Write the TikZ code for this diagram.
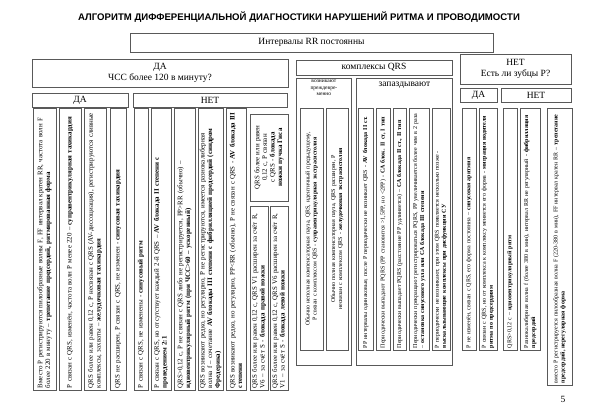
\documentclass[tikz,border=0pt]{standalone}
\usepackage{fontspec}
\setmainfont{Liberation Serif}
\newfontfamily\headfont{Liberation Sans}
\usetikzlibrary{positioning}

\begin{document}
\begin{tikzpicture}[x=1pt, y=-1pt, every node/.style={font=\fontsize{9.5}{11}\selectfont}]
\tikzstyle{headbox} = [rectangle, draw=black!65, line width=0.8pt, align=center, inner sep=1pt]
\tikzstyle{frame} = [rectangle, draw=black!65, line width=0.8pt, anchor=north west, inner sep=0pt]
\tikzstyle{column} = [rectangle, draw=black!65, line width=0.7pt, rotate=90, align=left, inner sep=1.5pt, font=\fontsize{6.9}{7.6}\selectfont]
\tikzstyle{smallcol} = [column, font=\fontsize{6}{7}\selectfont]

\useasboundingbox (0,0) rectangle (604,409);

% Title
\node (title) at (299,17) {\headfont\bfseries\fontsize{9.6}{12}\selectfont АЛГОРИТМ ДИФФЕРЕНЦИАЛЬНОЙ ДИАГНОСТИКИ НАРУШЕНИЙ РИТМА И ПРОВОДИМОСТИ};

% Header boxes
\node (rr) [headbox, minimum width=363, minimum height=19] at (311.5,42.5) {Интервалы RR постоянны};
\node (hr) [headbox, minimum width=256, minimum height=28] at (160,73) {ДА\\ЧСС более 120 в минуту?};
\node (hryes) [headbox, minimum width=96, minimum height=14] at (80,100) {ДА};
\node (hrno) [headbox, minimum width=154, minimum height=14] at (210,100) {НЕТ};
\node (qrs) [headbox, minimum width=156, minimum height=15] at (374,67.5) {комплексы QRS};
\node (early) [frame, minimum width=55, minimum height=287,
  label={[anchor=north, align=center, inner sep=2pt, font=\fontsize{5.5}{6.3}\selectfont]north:возникают\\преждевре-\\менно}] at (296,78) {};
\node (late) [frame, minimum width=96, minimum height=287,
  label={[anchor=north, inner sep=4pt]north:запаздывают}] at (356,78) {};
\node (pwave) [headbox, minimum width=111, minimum height=30] at (515.5,69) {НЕТ\\Есть ли зубцы P?};
\node (pyes) [headbox, minimum width=37, minimum height=14] at (478.5,95) {ДА};
\node (pno) [headbox, minimum width=70, minimum height=14] at (536,95) {НЕТ};

% Columns under "ДА" (ЧСС более 120)
\node (c1) [column, minimum width=282, minimum height=23, text width=278] at (44.5,249) {Вместо P регистрируются пилообразные волны F, FF интервал кратен RR, частота волн F более 220 в минуту – \textbf{трепетание предсердий, ритмированная форма}};
\node (c2) [column, minimum width=282, minimum height=22, text width=278] at (70,249) {P связан с QRS, изменён, частота волн P менее 220 – \textbf{суправентрикулярная тахикардия}};
\node (c3) [column, minimum width=282, minimum height=22, text width=278] at (95,249) {QRS более или равен 0,12 с, P несвязан с QRS (AV-диссоциация), регистрируются сливные комплексы, захваты – \textbf{желудочковая тахикардия}};
\node (c4) [column, minimum width=282, minimum height=16, text width=278] at (118,249) {QRS не расширен, P связан с QRS, не изменен - \textbf{синусовая тахикардия}};

% Columns under "НЕТ" (ЧСС более 120)
\node (c5) [column, minimum width=282, minimum height=14, text width=278] at (141,249) {P связан с QRS, не изменены - \textbf{синусовый ритм}};
\node (c6) [column, minimum width=282, minimum height=20, text width=278] at (161,249) {P связан с QRS, но отсутствует каждый 2-й QRS – \textbf{AV блокада II степени с}\\\textbf{проведением 2:1}};
\node (c7) [column, minimum width=282, minimum height=21, text width=278] at (184.5,249) {QRS>0,12 с, P не связан с QRS либо не регистрируется, PP>RR (обычно) – \textbf{идиовентрикулярный ритм (при ЧСС>60 – ускоренный)}};
\node (c8) [column, minimum width=282, minimum height=25, text width=278] at (210.5,249) {QRS возникают редко, но регулярно, P не регистрируются, имеется разнокалиберная волна f – сочетание \textbf{AV блокады III степени с фибрилляцией предсердий (синдром Фредерика)}};
\node (c9) [column, minimum width=282, minimum height=20, text width=278] at (236,249) {QRS возникают редко, но регулярно, PP<RR (обычно), P не связан с QRS - \textbf{AV блокада III степени}};
\node (c10) [column, align=center, minimum width=87, minimum height=38, text width=83] at (269,157.5) {QRS более или равен 0,12 с, P связан с QRS - \textbf{блокада ножки пучка Гиса}};
\node (c10a) [column, minimum width=184, minimum height=18, text width=180] at (259,298) {QRS более или равен 0,12 с, QRS V1 расширен за счёт R, V6 – за счёт S - \textbf{блокада правой ножки}};
\node (c10b) [column, minimum width=184, minimum height=18, text width=180] at (279,298) {QRS более или равен 0,12 с, QRS V6 расширен за счёт R, V1 – за счёт S - \textbf{блокада левой ножки}};

% Columns of "возникают преждевременно"
\node (c11) [smallcol, align=center, minimum width=242, minimum height=23, text width=238] at (311.5,229) {Обычно неполная компенсаторная пауза, QRS, идентичный предыдущему, P связан с комплексом QRS - \textbf{суправентрикулярная экстрасистолия}};
\node (c12) [smallcol, align=center, minimum width=242, minimum height=22, text width=238] at (337,229) {Обычно полная компенсаторная пауза, QRS расширен, P несвязан с комплексом QRS - \textbf{желудочковая экстрасистолия}};

% Columns of "запаздывают"
\node (c13) [smallcol, minimum width=242, minimum height=15, text width=238] at (365.5,229) {PP интервалы одинаковые, после P периодически не возникает QRS - \textbf{AV блокада II ст.}};
\node (c14) [smallcol, minimum width=242, minimum height=14, text width=238] at (383,229) {Периодически выпадают PQRS (PP становится >1,5PP, но <2PP) - \textbf{СА блок. II ст, I тип}};
\node (c15) [smallcol, minimum width=242, minimum height=13, text width=238] at (399.5,229) {Периодически выпадает PQRS (расстояние PP удлиняется) – \textbf{СА блокада II ст., II тип}};
\node (c16) [smallcol, minimum width=242, minimum height=20, text width=238] at (419,229) {Периодически прекращают регистрироваться PQRS, PP увеличивается более чем в 2 раза – \textbf{остановка синусового узла или СА блокада III степени}};
\node (c17) [smallcol, minimum width=242, minimum height=18, text width=238] at (441,229) {P периодически не возникают, при этом QRS появляется несколько позже - \textbf{выскальзывающие комплексы при дисфункции СУ}};

% Columns under "Есть ли зубцы P?"
\node (c18) [smallcol, minimum width=242, minimum height=14, text width=238] at (469,229) {P не изменён, связан с QRS, его форма постоянна – \textbf{синусовая аритмия}};
\node (c19) [smallcol, minimum width=242, minimum height=18, text width=238] at (488,229) {P связан с QRS, но от комплекса к комплексу меняется его форма - \textbf{миграция водителя ритма по предсердиям}};
\node (c20) [smallcol, minimum width=242, minimum height=14, text width=238] at (510,229) {QRS>0,12 с – \textbf{идиовентрикулярный ритм}};
\node (c21) [smallcol, minimum width=242, minimum height=20, text width=238] at (530,229) {Разнокалиберная волна f (более 380 в мин), интервал RR не регулярный - \textbf{фибрилляция предсердий}};
\node (c22) [smallcol, minimum width=277, minimum height=25, text width=273] at (559.5,246.5) {вместо P регистрируется пилообразная волна F (220-380 в мин), FF интервал кратен RR – \textbf{трепетание предсердий, нерегулярная форма}};

% Page number
\node (page) at (563,399) {5};

\end{tikzpicture}
\end{document}
